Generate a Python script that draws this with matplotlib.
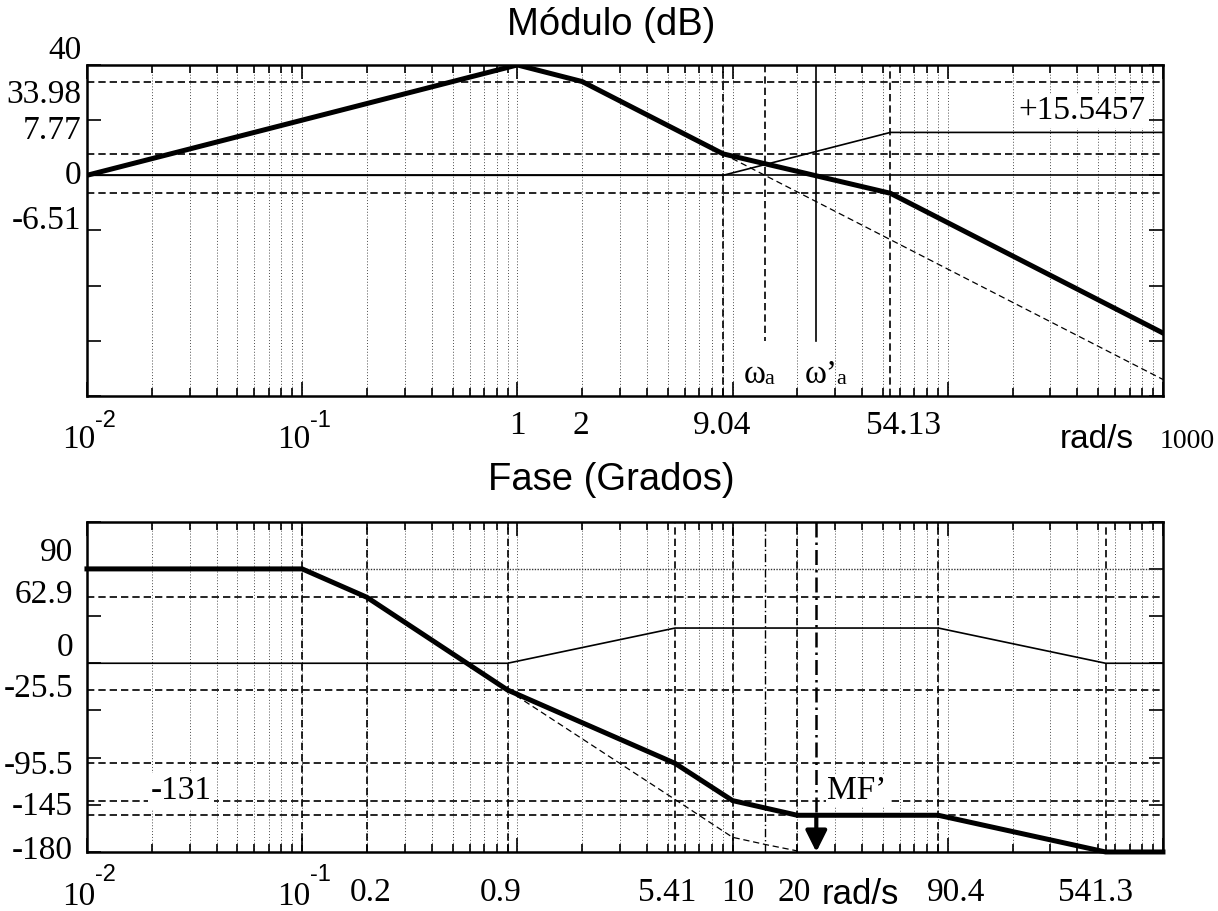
import matplotlib
matplotlib.use('Agg')
import matplotlib.pyplot as plt
from matplotlib.transforms import blended_transform_factory
from matplotlib.ticker import NullFormatter, FixedLocator

SERIF = 'Liberation Serif'
SANS = 'Liberation Sans'

# ---- magnitude (dB) ----
w_mag = [0.01, 1, 2, 9.04, 54.13, 1000]
mag_comp = [0, 40, 33.98, 7.77, -6.51, -57.17]
w_mag_unc = [9.04, 1000]
mag_unc = [7.77, -74.0]
w_mag_lead = [0.01, 9.04, 54.13, 1000]
mag_lead = [0, 0, 15.5457, 15.5457]
mag_hlines = [33.98, 7.77, -6.51]
mag_vlines = [9.04, 54.13]
w_a = 14.2
w_a2 = 24.5

# ---- phase (deg) ----
w_ph = [0.01, 0.1, 0.2, 0.9, 5.41, 10, 20, 90.4, 541.3, 1000]
ph_comp = [90, 90, 62.9, -25.5, -95.5, -131, -145, -145, -180, -180]
w_ph_unc = [0.9, 5.41, 10, 14.3, 20]
ph_unc = [-25.5, -130, -166, -173, -179]
w_ph_lead = [0.01, 0.9, 5.41, 90.4, 541.3, 1000]
ph_lead = [0, 0, 33.6, 33.6, 0, 0]
ph_hlines = [62.9, -25.5, -95.5, -131, -145]
ph_vlines = [0.1, 0.2, 0.9, 5.41, 10, 20, 90.4, 541.3]
mf_top = -145
mf_bottom = -180

# axis labels (text, where it sits)
mag_ylabels = ['40', '33.98', '7.77', '0', '-6.51']
mag_ylabel_pos = [45.1, 29.1, 16.1, -0.25, -16.6]
mag_xlabels = ['1', '2', '9.04', '54.13']
mag_xlabel_pos = [1.0, 1.97, 8.93, 62.6]
ph_ylabels = ['90', '62.9', '0', '-25.5', '-95.5', '-145', '-180']
ph_ylabel_pos = [105.5, 65.6, 15.2, -24.7, -97.9, -136.9, -178.7]
ph_xlabels = ['0.2', '0.9', '5.41', '10', '20', '90.4', '541.3']
ph_xlabel_pos = [0.209, 0.839, 4.96, 10.6, 19.3, 109, 488]

fig = plt.figure(figsize=(12.18, 9.11), dpi=100)
ax1 = fig.add_axes([0.0714, 0.5653, 0.8834, 0.3634])
ax2 = fig.add_axes([0.0714, 0.0648, 0.8834, 0.3625])

dash = (4.4, 2.4)


def base_axes(ax, yticks):
    ax.set_xscale('log')
    ax.set_xlim(0.01, 1000)
    ax.set_ylim(yticks[0], yticks[-1])
    ax.yaxis.set_major_locator(FixedLocator(yticks))
    ax.set_yticklabels([])
    ax.xaxis.set_major_formatter(NullFormatter())
    ax.xaxis.set_minor_formatter(NullFormatter())
    ax.tick_params(which='both', direction='in', top=True, right=True,
                   color='k', width=1.2)
    ax.tick_params(which='major', length=10)
    ax.tick_params(which='minor', length=6)
    for s in ax.spines.values():
        s.set_linewidth(1.8)
    # dotted log grid
    for k in range(-2, 3):
        for n in range(1, 10):
            ax.axvline(n * 10 ** k, color='0.3', lw=0.7, dashes=(1, 2),
                       zorder=1)


base_axes(ax1, list(range(-80, 41, 20)))
base_axes(ax2, list(range(-180, 136, 45)))

# ---------- magnitude panel ----------
for h in mag_hlines:
    ax1.axhline(h, color='k', lw=1.2, dashes=dash, zorder=2)
ax1.axhline(0, color='k', lw=1.2, zorder=2)
for v in mag_vlines:
    ax1.axvline(v, color='k', lw=1.2, dashes=dash, zorder=2)
ax1.plot([w_a, w_a], [40, -60], color='k', lw=1.2, dashes=dash, zorder=2)
ax1.plot([w_a2, w_a2], [40, -60], color='k', lw=1.2, zorder=2)

ax1.plot(w_mag_lead, mag_lead, color='k', lw=1.2, zorder=3)
ax1.plot(w_mag_unc, mag_unc, color='k', lw=0.9, dashes=(5, 3), zorder=3)
ax1.plot(w_mag, mag_comp, color='k', lw=3.6, zorder=4, solid_joinstyle='miter')

trY1 = blended_transform_factory(ax1.transAxes, ax1.transData)
for txt, y in zip(mag_ylabels, mag_ylabel_pos):
    ax1.text(-0.005, y, txt, transform=trY1, ha='right', va='center',
             family=SERIF, fontsize=24, clip_on=False)

trX1 = blended_transform_factory(ax1.transData, ax1.transAxes)
for txt, x in zip(mag_xlabels, mag_xlabel_pos):
    ax1.text(x, -0.09, txt, transform=trX1, ha='center', va='center',
             family=SERIF, fontsize=24, clip_on=False)
for dec, sup in [(0.01, '-2'), (0.1, '-1')]:
    ax1.text(dec * 1.09, -0.133, '10', transform=trX1, ha='right',
             va='center', family=SERIF, fontsize=24, clip_on=False)
    ax1.text(dec * 1.09, -0.075, sup, transform=trX1, ha='left',
             va='center', family=SANS, fontsize=17, clip_on=False)
ax1.text(332, -0.13, 'rad/s', transform=trX1, ha='left', va='center',
         family=SANS, fontsize=24, clip_on=False)
ax1.text(1745, -0.138, '1000', transform=trX1, ha='right', va='center',
         family=SERIF, fontsize=20, clip_on=False)

ax1.text(212, 23.3, '+15.5457', ha='left', va='center', family=SERIF,
         fontsize=24, bbox=dict(facecolor='white', edgecolor='none', pad=1),
         zorder=5)
ax1.text(11.3, -72.4, 'ω', ha='left', va='center', family=SERIF, fontsize=24)
ax1.text(14.0, -74.0, 'a', ha='left', va='center', family=SERIF, fontsize=16)
ax1.text(21.7, -72.4, 'ω’', ha='left', va='center', family=SERIF, fontsize=24)
ax1.text(30.2, -74.0, 'a', ha='left', va='center', family=SERIF, fontsize=16)

# ---------- phase panel ----------
ax2.axhline(90, color='0.2', lw=1.0, dashes=(1, 1), zorder=2)
for h in ph_hlines:
    ax2.axhline(h, color='k', lw=1.2, dashes=dash, zorder=2)
for v in ph_vlines:
    ax2.axvline(v, color='k', lw=1.2, dashes=dash, zorder=2)
ax2.axvline(w_a, color='k', lw=1.0, dashes=(6, 2, 1, 2), zorder=2)
ax2.plot([w_a2, w_a2], [135, mf_top], color='k', lw=1.8,
         dashes=(6, 2, 1, 2), zorder=2)

ax2.plot(w_ph_lead, ph_lead, color='k', lw=1.2, zorder=3)
ax2.plot(w_ph_unc, ph_unc, color='k', lw=0.9, dashes=(5, 3), zorder=3)
ax2.plot(w_ph, ph_comp, color='k', lw=3.6, zorder=4, solid_joinstyle='miter',
         clip_on=False)
ax2.annotate('', xy=(w_a2, mf_bottom), xytext=(w_a2, mf_top),
             arrowprops=dict(arrowstyle='-|>', lw=3, color='k',
                             mutation_scale=32, shrinkA=0, shrinkB=0),
             zorder=5)

trY2 = blended_transform_factory(ax2.transAxes, ax2.transData)
for txt, y in zip(ph_ylabels, ph_ylabel_pos):
    ax2.text(-0.013, y, txt, transform=trY2, ha='right', va='center',
             family=SERIF, fontsize=24, clip_on=False)
ax2.text(0.0198, -121.7, '-131', ha='left', va='center', family=SERIF,
         fontsize=24, bbox=dict(facecolor='white', edgecolor='none', pad=2),
         zorder=5)
ax2.text(27.5, -121.7, 'MF’', ha='left', va='center', family=SERIF,
         fontsize=24, bbox=dict(facecolor='white', edgecolor='none', pad=1),
         zorder=5)

trX2 = blended_transform_factory(ax2.transData, ax2.transAxes)
for txt, x in zip(ph_xlabels, ph_xlabel_pos):
    ax2.text(x, -0.124, txt, transform=trX2, ha='center', va='center',
             family=SERIF, fontsize=24, clip_on=False)
for dec, sup in [(0.01, '-2'), (0.1, '-1')]:
    ax2.text(dec * 1.09, -0.135, '10', transform=trX2, ha='right',
             va='center', family=SERIF, fontsize=24, clip_on=False)
    ax2.text(dec * 1.09, -0.07, sup, transform=trX2, ha='left',
             va='center', family=SANS, fontsize=17, clip_on=False)
ax2.text(39.1, -0.128, 'rad/s', transform=trX2, ha='center', va='center',
         family=SANS, fontsize=25, clip_on=False)

fig.text(0.502, 1 - 25 / 911, 'Módulo (dB)', ha='center', va='center',
         family=SANS, fontsize=27.5)
fig.text(0.502, 1 - 480 / 911, 'Fase (Grados)', ha='center', va='center',
         family=SANS, fontsize=27.5)

fig.savefig('out.png', dpi=100)
